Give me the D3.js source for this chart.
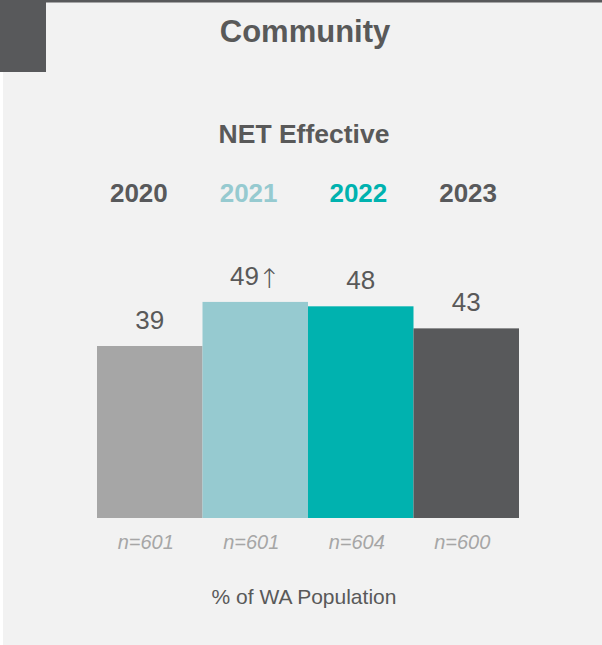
<!DOCTYPE html>
<html>
<head>
<meta charset="utf-8">
<script src="https://cdn.jsdelivr.net/npm/d3@7"></script>
<style>
  html, body { margin: 0; padding: 0; background: #ffffff; }
  svg { display: block; font-family: Arial, "Liberation Sans", sans-serif; }
</style>
</head>
<body>
<svg id="chart" width="602" height="645"></svg>
<script>
// Survey waves and NET Effective share (% of WA population)
const years = ["2020", "2021", "2022", "2023"];
const values = [39, 49, 48, 43];
const sigMarks = ["", "↑", "", ""];
const sampleSizes = ["n=601", "n=601", "n=604", "n=600"];
const barColors = ["#a6a6a6", "#96cad0", "#00b2af", "#58595b"];
const yearColors = ["#58595b", "#96cad0", "#00b2af", "#58595b"];

const svg = d3.select("#chart");
const W = 602, H = 645;

// panel background and header accents
svg.append("rect").attr("x", 3).attr("y", 0).attr("width", W - 3).attr("height", H).attr("fill", "#f2f2f2");
svg.append("rect").attr("x", 0).attr("y", 0).attr("width", W).attr("height", 2.5).attr("fill", "#58595b");
svg.append("rect").attr("x", 0).attr("y", 0).attr("width", 46).attr("height", 72).attr("fill", "#58595b");

const textDark = "#595959";

svg.append("text").attr("x", 305).attr("y", 42).attr("text-anchor", "middle")
  .attr("font-size", 31).attr("font-weight", "bold").attr("fill", textDark).text("Community");

svg.append("text").attr("x", 304).attr("y", 143).attr("text-anchor", "middle")
  .attr("font-size", 26.5).attr("font-weight", "bold").attr("fill", textDark).text("NET Effective");

// year header row
const xHead = d3.scaleBand().domain(years).range([84, 523]);
svg.append("g").selectAll("text").data(years).join("text")
  .attr("x", d => xHead(d) + xHead.bandwidth() / 2)
  .attr("y", 202)
  .attr("text-anchor", "middle")
  .attr("font-size", 26).attr("font-weight", "bold")
  .attr("fill", (d, i) => yearColors[i])
  .text(d => d);

// bars
const x = d3.scaleBand().domain(years).range([97, 519]).padding(0);
const y = d3.scaleLinear().domain([0, 100]).range([518, 77]);

svg.append("g").selectAll("rect").data(years).join("rect")
  .attr("x", d => x(d))
  .attr("y", (d, i) => y(values[i]))
  .attr("width", x.bandwidth())
  .attr("height", (d, i) => y(0) - y(values[i]))
  .attr("fill", (d, i) => barColors[i]);

// value labels, with a significance arrow where one applies
const labels = svg.append("g").selectAll("text").data(years).join("text")
  .attr("x", d => x(d) + x.bandwidth() / 2)
  .attr("y", (d, i) => y(values[i]) - 17)
  .attr("text-anchor", "middle")
  .attr("font-size", 26)
  .attr("fill", textDark);
labels.append("tspan").text((d, i) => values[i]);
labels.filter((d, i) => sigMarks[i] !== "").append("tspan")
  .attr("font-family", "'DejaVu Sans', sans-serif")
  .attr("font-size", 27)
  .attr("font-weight", 200)
  .attr("dx", -1)
  .attr("dy", 3)
  .text(d => sigMarks[years.indexOf(d)]);

// sample sizes
svg.append("g").selectAll("text").data(years).join("text")
  .attr("x", d => x(d) + x.bandwidth() / 2 - 4)
  .attr("y", 549)
  .attr("text-anchor", "middle")
  .attr("font-size", 20).attr("font-style", "italic")
  .attr("fill", "#a6a6a6")
  .text((d, i) => sampleSizes[i]);

svg.append("text").attr("x", 304).attr("y", 604).attr("text-anchor", "middle")
  .attr("font-size", 21).attr("fill", textDark).text("% of WA Population");
</script>
</body>
</html>
